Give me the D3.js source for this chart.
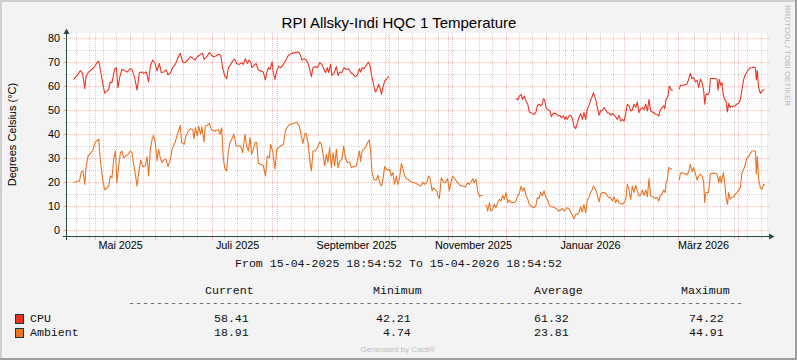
<!DOCTYPE html>
<html><head><meta charset="utf-8">
<script src="https://cdn.jsdelivr.net/npm/d3@7/dist/d3.min.js"></script>
<style>html,body{margin:0;padding:0;background:#F3F3F3}svg{display:block}</style>
</head><body>
<svg id="chart" width="797" height="360"></svg>
<script>
// ---------------- data ----------------
const chartTitle = "RPI Allsky-Indi HQC 1 Temperature";
const yAxisTitle = "Degrees Celsius (°C)";
const watermark = "RRDTOOL / TOBI OETIKER";
const footer = "Generated by Cacti®";
const rangeStart = "2025-04-15 18:54:52";
const rangeEnd = "2026-04-15 18:54:52";
const dayZero = "2025-04-15 00:00:00"; // sample times are given in days after this moment
const yTickValues = [0, 10, 20, 30, 40, 50, 60, 70, 80];
const germanMonths = ["Januar","Februar","März","April","Mai","Juni","Juli","August","September","Oktober","November","Dezember"];
const seriesNames = ["CPU", "Ambient"];
const seriesColors = ["#EE3524", "#EA7324"];
const statHeaders = ["Current", "Minimum", "Average", "Maximum"];
const cpuStats = ["58.41", "42.21", "61.32", "74.22"];
const ambientStats = ["18.91", "4.74", "23.81", "44.91"];

const cpuDays = [4.5,6.3,8.0,9.2,10.3,11.0,12.3,15.0,16.7,17.6,18.4,19.6,20.7,21.9,22.8,23.6,24.5,25.9,26.8,27.6,28.5,29.7,31.1,32.3,34.1,34.9,36.3,37.6,38.8,40.2,41.0,42.4,43.6,44.5,45.7,46.8,48.0,49.2,50.2,51.5,52.7,53.7,54.9,56.1,57.5,59.3,60.1,
61.4,62.6,64.3,65.5,66.9,67.8,69.0,70.1,70.7,71.8,72.5,73.9,75.3,76.5,77.4,78.7,80.0,81.2,82.2,83.3,84.3,85.2,86.4,87.8,88.6,89.5,90.9,92.1,93.0,94.0,95.1,96.0,96.8,97.5,98.6,99.6,100.8,102.0,103.4,104.5,105.2,106.0,106.9,108.0,108.6,109.5,110.4,111.4,112.5,113.9,115.2,116.5,118.2,120.0,121.7,
122.4,123.6,124.6,125.8,126.7,127.6,128.5,129.3,130.5,131.6,132.8,134.0,135.1,135.8,136.8,137.5,138.5,139.2,140.3,141.5,142.4,143.2,144.4,145.5,146.7,147.9,149.0,150.2,151.4,152.4,153.5,154.2,154.9,155.9,157.1,158.3,159.0,160.1,161.1,161.8,162.5,163.6,164.3,165.0,165.8,166.7,167.7,168.8,
200.0,
235.2,236.0,236.9,237.8,238.6,239.5,240.4,241.3,242.1,243.5,244.7,245.6,
246.3,247.2,248.0,248.9,249.4,250.1,250.8,251.9,252.9,253.6,254.6,255.9,257.1,258.1,258.8,259.9,260.6,261.2,261.9,262.8,263.7,264.6,265.4,266.3,267.2,268.0,268.9,269.8,270.6,271.5,272.4,273.2,274.1,275.0,275.5,276.2,276.9,277.6,278.5,279.3,280.2,281.1,281.9,282.8,283.7,284.5,285.4,286.3,287.1,288.0,288.9,289.7,290.6,291.5,292.4,293.2,294.1,295.0,295.8,296.7,297.6,298.4,299.3,299.8,301.0,301.9,302.8,303.7,304.5,305.4,306.3,307.1,
307.8,308.7,309.6,310.4,311.3,312.2,312.7,313.4,314.4,315.1,315.6,316.2,316.9,318.5,320.3,320.9,322.6,324.3,325.2,326.1,326.9,327.8,328.7,329.6,330.4,331.3,332.2,333.0,333.6,334.2,335.3,336.0,336.5,337.7,339.1,340.0,340.5,341.2,341.9,342.6,343.1,344.0,344.7,345.4,346.1,346.8,347.5,348.2,349.2,350.2,351.3,352.2,353.0,353.9,354.8,355.6,356.5,357.4,358.2,359.1,360.0,360.5,361.0,361.7,362.6,363.4,364.3,364.8];
const cpuTemps = [62.8,64.4,66.4,65.3,58.9,64,65.8,67.6,69.7,70.3,67,61.4,57,57.9,58.6,61.7,61.4,67,67.6,59.3,63.5,67,66.4,65.8,67.2,67,63.5,58.3,65.6,65.8,65.3,65.8,61.7,68.3,70.8,69.7,66.3,69.4,65.6,65.8,66.7,64.7,65.3,67.6,69,72.5,73.6,
70,69.7,71.1,72.2,71.4,70.8,72.2,72.8,73.2,73.6,71.1,72.2,73.9,72.8,72.2,72.5,73.2,72.8,67.6,64.2,63.1,67.6,69,70.8,71.1,69.4,69,69.7,69,71.4,69.4,70.8,70,67.6,68.6,69.4,66.7,66.3,65.8,62.5,65.6,67.6,66.9,70,65.6,62.8,66.3,68.3,67.6,69,70.8,72.8,73.6,73.9,74.2,
73.6,70.8,71.4,70.8,69.4,66.9,63.9,67.6,68.1,67.6,69.7,69,66.9,65.6,67.6,65.6,69,64.4,65.3,68.1,64.4,65.8,65.6,67.6,66.9,67.2,65.6,64.9,63.9,64.4,67.2,65.8,67.6,67.2,68.6,70,68.6,63.5,60,57.5,58.3,60.7,58.9,56.5,59.3,62.1,62.8,64.2,
null,
54.7,54.2,55.8,56.5,54.4,55.8,53.8,52.4,49.2,48.6,48.1,49.2,
51.7,52.4,51.7,52.4,54.7,54.2,51,50,49.6,47.2,48.6,48.6,47.5,47.8,46.8,47.5,46.1,47.2,46.1,47.5,47.8,46.4,43.3,42.2,44.7,46.8,48.6,46.1,48.9,46.1,50.6,51.7,54.2,55.8,57.2,55.8,53.8,51,47.8,49.6,50,51,50,48.9,48.6,47.8,48.6,47.8,47.2,46.1,47.8,45.4,46.1,45.4,48.6,52.4,51.7,49.6,50,52.4,51,53.3,48.9,50,51,50.1,52.4,49.6,54.4,49.6,49.2,48.9,
48.2,48.2,47.5,50,51,51.7,50.6,54.4,55.8,60,59.3,58.3,58.3,null,58.6,60.3,60.3,60.8,62.8,65.3,63.1,63.5,61.7,62.5,59.3,62.8,61.4,58.3,52.4,56.5,56.5,57.5,63.1,63.1,63.1,62.8,58.3,62.8,60.3,61.4,56.9,54.2,53.8,49.2,52.8,51,51.7,51.4,51.7,52.4,52.8,54.4,58.6,62.8,64.9,65.8,66.9,67.6,67.6,67.9,67.6,62.5,66.4,59.3,56.9,57.9,58.3,58.4];

const ambientDays = [4.5,6.3,7.5,8.5,9.4,10.3,11.0,12.0,13.2,14.4,15.8,17.6,18.4,19.6,20.7,21.9,22.8,23.6,24.5,25.4,26.3,27.1,28.0,28.9,29.7,30.6,31.5,32.9,34.1,34.9,35.8,36.7,37.6,38.4,39.5,40.5,41.9,42.8,43.6,44.5,45.4,46.2,47.1,48.0,48.8,49.7,50.6,51.5,52.7,53.7,54.9,55.8,57.5,58.9,60.1,
60.8,62.1,63.1,64.3,65.5,66.6,67.3,68.0,69.0,69.7,70.7,71.4,72.5,73.2,74.2,75.3,76.5,77.4,78.7,80.0,80.8,81.7,82.6,83.4,84.3,85.2,86.0,87.4,88.1,89.2,90.4,91.6,92.6,93.9,94.7,95.6,96.5,97.3,98.2,99.1,100.0,100.8,102.0,103.4,104.5,105.5,106.6,107.2,108.3,109.5,110.4,111.4,112.5,113.9,114.9,116.0,117.3,119.1,120.8,122.2,
123.2,124.1,125.0,125.7,126.7,127.6,128.5,129.3,130.5,131.6,132.8,133.7,134.5,135.4,136.3,137.1,138.0,138.9,139.8,140.6,141.5,142.4,143.2,144.4,145.3,146.2,147.2,148.4,149.3,150.7,151.9,152.8,153.5,154.2,154.9,155.9,157.0,158.0,158.7,159.4,160.1,161.1,162.3,163.2,164.1,165.0,165.8,166.7,167.6,168.4,169.3,170.2,171.0,171.9,172.8,173.6,174.5,175.4,176.3,177.1,178.0,178.9,179.7,180.6,182.3,184.1,
185.6,186.5,187.4,188.6,189.6,190.3,191.4,192.1,193.1,193.8,194.5,195.2,196.2,197.3,198.3,199.5,200.4,201.3,202.1,203.5,204.8,206.0,207.4,208.8,210.0,210.8,211.7,212.6,213.4,214.3,215.2,216.1,216.9,217.8,218.5,219.2,219.9,220.4,221.3,222.1,223.0,223.9,224.7,225.6,226.5,227.4,228.2,229.1,230.0,230.8,231.7,232.6,233.4,234.3,235.2,236.0,236.9,237.8,238.6,239.5,240.4,241.3,242.1,243.5,244.7,245.6,
246.3,247.2,248.0,248.9,249.8,250.6,251.5,252.4,253.3,254.1,255.3,256.4,257.6,258.5,259.3,260.2,261.1,261.9,262.8,263.7,264.6,265.4,266.3,267.2,268.0,268.9,269.8,270.6,271.5,272.4,273.2,274.1,275.0,275.5,276.2,277.2,278.5,279.3,280.2,281.1,281.9,282.8,283.7,284.5,285.4,286.3,287.1,288.0,288.9,289.7,290.6,291.5,292.4,293.2,294.1,295.0,295.8,296.7,297.6,298.4,299.3,300.2,301.0,301.9,302.8,303.7,304.5,305.4,306.3,307.1,
307.8,308.7,309.6,310.4,311.3,312.2,313.0,313.4,314.1,314.8,315.6,316.5,318.4,320.3,320.9,322.1,323.5,324.3,325.2,326.1,326.9,327.8,328.7,329.6,330.4,331.3,332.2,333.0,333.6,334.2,335.6,336.5,337.7,339.1,340.0,340.9,341.6,342.2,343.3,344.0,344.7,345.4,346.1,346.8,347.5,348.7,349.5,350.4,351.3,352.2,353.0,353.9,354.8,355.6,356.5,357.4,358.2,359.1,360.0,360.5,361.0,361.7,362.6,363.4,364.3,364.8];
const ambientTemps = [19.7,20.3,20.3,24.2,24.6,19,26,30.8,31.9,32.9,36.7,37.8,29.4,21.1,16.7,17.6,18.3,22.5,21.8,29.4,32.9,19.7,26.7,32.2,32.9,30.1,30.8,31.5,32.9,32.2,27.4,23.2,18.3,23.9,29.2,26.4,26.7,30.6,22.5,33.6,37.8,39.4,36.4,28.8,33.6,30.1,28.1,29.2,29.4,26.4,29.2,33.6,36.7,40.6,43.6,
36.4,35.7,39.2,41.3,42.2,41.9,38,42.6,39.2,43.3,39.9,43,36.7,43.3,43.6,44.4,41.7,41.3,41.3,41.9,39.9,42.6,29.4,25.6,24.6,32.9,36.4,38.5,39.9,35,35,35,32.2,39.9,35,32.9,38.5,31.5,33.6,36.4,36.4,27.8,27.4,26.9,22.5,30.8,30.1,35.7,32.9,25.3,33.6,34.3,35,35.7,41.3,43,44,44.4,44.9,43.3,
39.2,36.1,39.9,40.3,36.4,29.4,24.6,32.9,32.9,34.3,36.7,35.7,31.9,26.7,31.5,28.3,34.3,26,32.2,26.7,33.6,26,28.6,29.4,35,30.1,28.1,28.3,26,26.4,26.7,30.1,32.9,28.6,32.9,33.6,35,36.7,37.5,32.9,23.9,21.1,20.8,22.8,19.7,18.3,21.1,26.4,25.3,25,25.3,22.5,23.9,19,22.5,19,21.8,27.8,25.3,22.5,21.4,21.1,20.4,20,19.7,19,
18.3,20,19,19.7,22.5,21.8,16.3,17.6,16.7,16.3,14.2,13.1,21.8,20,19.7,21.4,16.3,19.7,22.5,21.1,19.7,18.6,18.3,17.9,19.7,19,20,21.4,19.7,21.1,16.3,13.9,14.4,14.4,null,10.3,10,7.9,11.4,7.9,8.6,10.7,9.3,11.4,12.8,12.1,14.4,12.8,15.6,11.4,12.5,11.4,11.4,11.4,12.1,14.2,15.3,18.3,16.3,17.6,14.4,12.8,10.7,9.7,9.3,10.3,
13.5,13.1,15.8,14.2,16.3,13.9,12.8,10.7,9.7,9.7,9.3,8.6,7.9,8.3,8.9,7.9,8.6,9.3,8.9,7.5,6.1,4.7,6.5,6.5,7.2,9.7,7.5,10.7,7.2,12.8,13.5,15.6,16.9,18.3,17.6,15.8,11.7,14.9,15.6,15.6,15.3,14.2,13.5,13.5,12.1,13.9,11.4,12.8,11.4,11.1,10.7,11.4,12.8,19,16.7,12.8,18.3,15.6,18.6,16.3,14.2,14.4,16.7,14.4,16.7,13.9,21.4,14.2,13.9,13.5,
13.1,13.5,12.1,14.4,14.9,16.7,15.6,19.7,21.1,26,25.6,25.3,null,20.8,23.6,23.9,23.3,22.9,24.3,27.5,24.3,26,23.6,20.8,22.5,23.3,22.5,20,11.4,15.6,15.6,23.3,23.6,23.6,23.3,19.7,22.5,19.7,23.9,19.7,13.5,10.7,15.6,12.8,13.5,13.9,14.9,15.6,16.7,17.6,23.9,25.3,27.4,30.1,30.6,31.9,32.9,32.9,32.9,23.3,30.6,21.1,17.6,16.9,19,18.9];

// ---------------- layout ----------------
const W = 797, H = 360;
const P = {left: 66, right: 766, top: 33, bottom: 236};
const AXIS = "#2C4D43";
const GRID = "rgba(143,143,143,0.38)";
const MGRID = "rgba(229,0,0,0.26)";
const SANS = "'Liberation Sans', Arial, sans-serif";
const MONO = "'Liberation Mono', 'Courier New', monospace";

const parse = d3.timeParse("%Y-%m-%d %H:%M:%S");
const t0 = parse(rangeStart), t1 = parse(rangeEnd), base = parse(dayZero);
const toDate = d => new Date(base.getTime() + d * 864e5);

const x = d3.scaleTime().domain([t0, t1]).range([P.left + 0.5, P.right + 0.5]);
const y = d3.scaleLinear().domain([0, 80]).range([230, 38]);

const svg = d3.select("#chart");
svg.append("rect").attr("width", W).attr("height", H).attr("fill", "#F3F3F3");
// 3D frame
svg.append("path").attr("d", `M0,${H}V0H${W}V2H2V${H}Z`).attr("fill", "#CFCFCF");
svg.append("path").attr("d", `M${W},0V${H}H0V${H-2}H${W-2}V0Z`).attr("fill", "#9E9E9E");

// canvas
svg.append("rect").attr("x", P.left).attr("y", P.top).attr("width", P.right - P.left + 1).attr("height", P.bottom - P.top).attr("fill", "#FFFFFF");

const g = svg.append("g").attr("shape-rendering", "crispEdges");
// horizontal grid (minor every 5, major every 10)
const yMinor = d3.range(5, 81, 10);
yMinor.forEach(v => {
  const yy = Math.round(y(v)) + 0.5;
  g.append("line").attr("x1", P.left - 1).attr("x2", P.right + 3).attr("y1", yy).attr("y2", yy)
    .attr("stroke", GRID).attr("stroke-dasharray", "1,1");
});
yTickValues.forEach(v => {
  const yy = Math.round(y(v)) + 0.5;
  g.append("line").attr("x1", P.left - 2).attr("x2", P.right + 3).attr("y1", yy).attr("y2", yy)
    .attr("stroke", MGRID).attr("stroke-dasharray", "1,1");
  g.append("line").attr("x1", P.left - 3).attr("x2", P.left).attr("y1", yy).attr("y2", yy).attr("stroke", MGRID);
});
// vertical grid (minor weekly, major monthly)
const months = d3.timeMonth.range(t0, t1);
const weeks = d3.timeMonday.range(t0, t1).filter(w => !months.some(m => Math.abs(x(m) - x(w)) < 2));
weeks.forEach(w => {
  const xx = Math.floor(x(w)) + 0.5;
  g.append("line").attr("x1", xx).attr("x2", xx).attr("y1", P.top).attr("y2", P.bottom)
    .attr("stroke", GRID).attr("stroke-dasharray", "1,1");
  g.append("line").attr("x1", xx).attr("x2", xx).attr("y1", P.bottom).attr("y2", P.bottom + 3).attr("stroke", GRID);
});
months.forEach(m => {
  const xx = Math.floor(x(m)) + 0.5;
  g.append("line").attr("x1", xx).attr("x2", xx).attr("y1", P.top).attr("y2", P.bottom)
    .attr("stroke", MGRID).attr("stroke-dasharray", "1,1");
  g.append("line").attr("x1", xx).attr("x2", xx).attr("y1", P.bottom).attr("y2", P.bottom + 4).attr("stroke", MGRID);
});

// series
const series = [
  {name: seriesNames[0], color: seriesColors[0], pts: cpuDays.map((d, i) => ({t: toDate(d), v: cpuTemps[i]}))},
  {name: seriesNames[1], color: seriesColors[1], pts: ambientDays.map((d, i) => ({t: toDate(d), v: ambientTemps[i]}))}
];
const line = d3.line().defined(d => d.v !== null).x(d => x(d.t)).y(d => y(d.v));
series.slice().reverse().forEach(s => {
  svg.append("path").attr("d", line(s.pts)).attr("fill", "none").attr("stroke", s.color)
    .attr("stroke-width", 1.1).attr("stroke-linejoin", "round");
});

// axes
const ax = svg.append("g").attr("shape-rendering", "crispEdges");
ax.append("line").attr("x1", P.left - 3).attr("x2", P.right + 4).attr("y1", P.bottom + 0.5).attr("y2", P.bottom + 0.5).attr("stroke", AXIS);
ax.append("line").attr("x1", P.left + 0.5).attr("x2", P.left + 0.5).attr("y1", P.bottom + 4).attr("y2", P.top).attr("stroke", AXIS);
svg.append("path").attr("d", `M${P.right + 3},${P.bottom + 0.5 - 3}L${P.right + 8.5},${P.bottom + 0.5}L${P.right + 3},${P.bottom + 0.5 + 3}Z`).attr("fill", AXIS);
svg.append("path").attr("d", `M${P.left + 0.5 - 3},${P.top + 1}L${P.left + 0.5},${P.top - 4.5}L${P.left + 0.5 + 3},${P.top + 1}Z`).attr("fill", AXIS);

// y tick labels
svg.append("g").selectAll("text").data(yTickValues).join("text")
  .attr("x", 60).attr("y", d => y(d)).attr("dy", "0.36em").attr("text-anchor", "end")
  .attr("font-family", SANS).attr("font-size", 10.8).attr("fill", "#000").text(d => d);

// x labels (every second month, German)
const deLocale = d3.timeFormatLocale({dateTime: "%A, %e. %B %Y, %X", date: "%d.%m.%Y", time: "%H:%M:%S",
  periods: ["AM", "PM"], days: ["Sonntag","Montag","Dienstag","Mittwoch","Donnerstag","Freitag","Samstag"],
  shortDays: ["So","Mo","Di","Mi","Do","Fr","Sa"], months: germanMonths,
  shortMonths: ["Jan","Feb","Mär","Apr","Mai","Jun","Jul","Aug","Sep","Okt","Nov","Dez"]});
const fmtMonth = deLocale.format("%B %Y");
const labelMonths = months.filter(m => m.getMonth() % 2 === 0);
svg.append("g").selectAll("text").data(labelMonths).join("text")
  .attr("x", d => x(d3.timeDay.offset(d, 13))).attr("y", 248.5).attr("text-anchor", "middle")
  .attr("font-family", SANS).attr("font-size", 10.8).attr("fill", "#000").text(d => fmtMonth(d));

// title
svg.append("text").attr("x", 399).attr("y", 28).attr("text-anchor", "middle")
  .attr("font-family", SANS).attr("font-size", 15).attr("fill", "#000").text(chartTitle);
// y axis title
svg.append("text").attr("transform", `translate(16,${(P.top + P.bottom) / 2}) rotate(-90)`)
  .attr("text-anchor", "middle").attr("font-family", SANS).attr("font-size", 11).attr("fill", "#000").text(yAxisTitle);
// watermark
svg.append("text").attr("transform", "translate(785,5) rotate(90)").attr("font-family", SANS)
  .attr("font-size", 7.6).attr("fill", "#B8B8B8").attr("textLength", 101).attr("lengthAdjust", "spacingAndGlyphs").text(watermark);

// legend
const fmtRange = d3.timeFormat("%d-%m-%Y %H:%M:%S");
const mono = (sel, size) => sel.attr("font-family", MONO).attr("font-size", size || 11.6).attr("fill", "#111");
mono(svg.append("text").attr("x", 398.5).attr("y", 267).attr("text-anchor", "middle"))
  .text(`From ${fmtRange(t0)} To ${fmtRange(t1)}`);
const colX = [205, 373, 534, 681];
const valX = [214, 376, 534, 689];
statHeaders.forEach((h, i) => mono(svg.append("text").attr("x", colX[i]).attr("y", 293.5)).text(h));
mono(svg.append("text").attr("x", 128).attr("y", 304.5).attr("textLength", 615).attr("lengthAdjust", "spacingAndGlyphs"), 7)
  .text("-".repeat(88));
const rows = [{name: seriesNames[0], color: seriesColors[0], stats: cpuStats, y: 322},
              {name: seriesNames[1], color: seriesColors[1], stats: ambientStats, y: 336}];
rows.forEach(r => {
  svg.append("rect").attr("x", 15.5).attr("y", r.y - 7.5).attr("width", 8).attr("height", 9)
    .attr("fill", r.color).attr("stroke", "#1E3A36").attr("stroke-width", 1);
  mono(svg.append("text").attr("x", 30).attr("y", r.y)).text(r.name);
  r.stats.forEach((s, i) => {
    const sx = s.length < 5 ? valX[i] + 7 : valX[i];
    mono(svg.append("text").attr("x", sx).attr("y", r.y)).text(s);
  });
});
svg.append("text").attr("x", 398).attr("y", 352).attr("text-anchor", "middle").attr("font-family", SANS)
  .attr("font-size", 8).attr("fill", "#BDBDBD").text(footer);
</script>
</body></html>
